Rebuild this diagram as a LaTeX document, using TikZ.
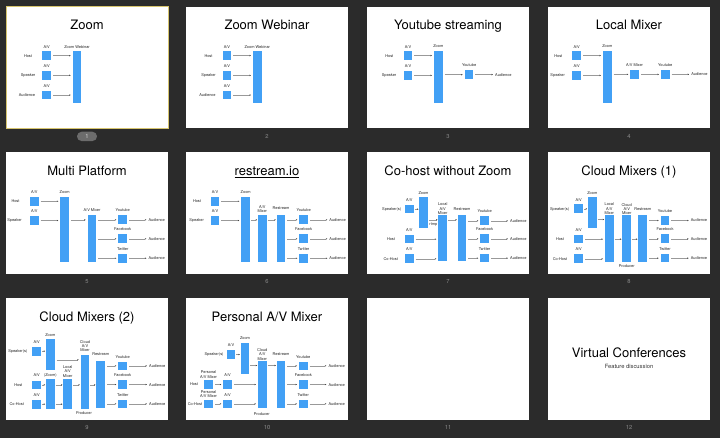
\documentclass[tikz,border=0pt]{standalone}
\usepackage{fontspec}
\setmainfont{TeX Gyre Heros}
\usetikzlibrary{arrows.meta}
\definecolor{bgc}{RGB}{43,43,43}
\definecolor{kblue}{RGB}{66,160,245}
\definecolor{selyel}{RGB}{214,196,110}
\definecolor{pillc}{RGB}{108,108,108}
\definecolor{numgray}{RGB}{140,140,140}
\begin{document}
\begin{tikzpicture}[x=1pt,y=-1pt,
  slidebox/.style={fill=white, minimum width=162pt, minimum height=121.5pt, anchor=north west, inner sep=0pt, outer sep=0pt},
  ttl/.style={font=\fontsize{13}{15}\selectfont, text=black, inner sep=0pt, anchor=base, yshift=-4.65pt},
  lbl/.style={font=\fontsize{3.9}{4.4}\selectfont, text=black!85, inner sep=0pt, anchor=base, yshift=-1.4pt},
  mlbl/.style={font=\fontsize{3.9}{4.4}\selectfont, text=black!85, inner sep=0pt, align=center, anchor=center},
  avbox/.style={fill=kblue, minimum width=8.7pt, minimum height=8.7pt, inner sep=0pt, outer sep=0pt, anchor=north west},
  bar/.style={fill=kblue, minimum width=8.7pt, inner sep=0pt, outer sep=0pt, anchor=north west},
  arr/.style={draw=black!40, line width=0.35pt, -{Stealth[length=1.5pt,width=1.3pt,color=black!75]}, shorten <=2pt, shorten >=2pt},
  sarr/.style={arr, shorten <=1pt, shorten >=0.8pt},
  pnum/.style={font=\fontsize{5.8}{6.5}\selectfont, text=numgray, inner sep=0pt}
]
\fill[bgc] (0,0) rectangle (720,438);
\useasboundingbox (0,0) rectangle (720,438);

% ---------- slide frames ----------
\node[slidebox, draw=selyel, line width=1pt] (p1) at (6,7) {};
\node[slidebox] (p2) at (186,7) {};
\node[slidebox] (p3) at (367,7) {};
\node[slidebox] (p4) at (548,7) {};
\node[slidebox] (p5) at (6,152.5) {};
\node[slidebox] (p6) at (186,152.5) {};
\node[slidebox] (p7) at (367,152.5) {};
\node[slidebox] (p8) at (548,152.5) {};
\node[slidebox] (p9) at (6,298.5) {};
\node[slidebox] (p10) at (186,298.5) {};
\node[slidebox] (p11) at (367,298.5) {};
\node[slidebox] (p12) at (548,298.5) {};

% ---------- page numbers ----------
\node[fill=pillc, rounded corners=4.6pt, minimum width=20pt, minimum height=9.3pt, inner sep=0pt] (n1) at (87,136.4) {};
\node[pnum, text=white!85!black] (n1t) at (n1) {1};
\node[pnum] (n2) at (267,136.4) {2};
\node[pnum] (n3) at (448,136.4) {3};
\node[pnum] (n4) at (629,136.4) {4};
\node[pnum] (n5) at (87,281.7) {5};
\node[pnum] (n6) at (267,281.7) {6};
\node[pnum] (n7) at (448,281.7) {7};
\node[pnum] (n8) at (629,281.7) {8};
\node[pnum] (n9) at (87,427.3) {9};
\node[pnum] (n10) at (267,427.3) {10};
\node[pnum] (n11) at (448,427.3) {11};
\node[pnum] (n12) at (629,427.3) {12};

% ---------- slide 1 ----------
\begin{scope}[shift={(6,7)}]
\node[ttl] (a0) at (81,18) {Zoom};
\node[avbox] (a1) at (36.3,44.3) {};
\node[avbox] (a2) at (36.3,64) {};
\node[avbox] (a3) at (36.3,83.7) {};
\node[lbl] (a1l) at (40.7,39.7) {A/V};
\node[lbl] (a2l) at (40.7,59.4) {A/V};
\node[lbl] (a3l) at (40.7,79.1) {A/V};
\node[lbl] (a1n) at (22,48.7) {Host};
\node[lbl] (a2n) at (22,68.4) {Speaker};
\node[lbl] (a3n) at (21,88) {Audience};
\node[bar, minimum height=52pt] (az) at (66.7,44.3) {};
\node[lbl] (azl) at (71,39.7) {Zoom Webinar};
\foreach \i in {1,2,3} \draw[arr] (a\i) -- (a\i -| az.west);
\end{scope}

% ---------- slide 2 ----------
\begin{scope}[shift={(186,7)}]
\node[ttl] (b0) at (81,18) {Zoom Webinar};
\node[avbox] (b1) at (36.5,44.3) {};
\node[avbox] (b2) at (36.5,64) {};
\node[avbox] (b3) at (36.5,83.7) {};
\node[lbl] (b1l) at (40.9,39.7) {A/V};
\node[lbl] (b2l) at (40.9,59.4) {A/V};
\node[lbl] (b3l) at (40.9,79.1) {A/V};
\node[lbl] (b1n) at (22.5,48.7) {Host};
\node[lbl] (b2n) at (22.5,68.4) {Speaker};
\node[lbl] (b3n) at (21.5,88) {Audience};
\node[bar, minimum height=52pt] (bz) at (67,44.3) {};
\node[lbl] (bzl) at (71.3,39.7) {Zoom Webinar};
\foreach \i in {1,2,3} \draw[arr] (b\i) -- (b\i -| bz.west);
\end{scope}

% ---------- slide 3 ----------
\begin{scope}[shift={(367,7)}]
\node[ttl] (c0) at (81,18) {Youtube streaming};
\node[avbox] (c1) at (36.7,44.3) {};
\node[avbox] (c2) at (36.7,64) {};
\node[lbl] (c1l) at (41,39.7) {A/V};
\node[lbl] (c2l) at (41,59.4) {A/V};
\node[lbl] (c1n) at (22.3,48.7) {Host};
\node[lbl] (c2n) at (22,68.4) {Speaker};
\node[bar, minimum height=52pt] (cz) at (67,44.3) {};
\node[lbl] (czl) at (71.3,39.4) {Zoom};
\node[avbox] (cy) at (97.7,63.3) {};
\node[lbl] (cyl) at (102.1,58.3) {Youtube};
\node[lbl] (ca) at (136.3,67.7) {Audience};
\draw[arr] (c1) -- (c1 -| cz.west);
\draw[arr] (c2) -- (c2 -| cz.west);
\draw[arr] (cz.east |- cy) -- (cy);
\draw[arr] (cy) -- (cy -| ca.west);
\end{scope}

% ---------- slide 4 ----------
\begin{scope}[shift={(548,7)}]
\node[ttl] (d0) at (81,18) {Local Mixer};
\node[avbox] (d1) at (24.3,44.3) {};
\node[avbox] (d2) at (24.3,64) {};
\node[lbl] (d1l) at (28.7,39.7) {A/V};
\node[lbl] (d2l) at (28.7,59.4) {A/V};
\node[lbl] (d1n) at (10.3,48.7) {Host};
\node[lbl] (d2n) at (9.7,68.4) {Speaker};
\node[bar, minimum height=51.5pt] (dz) at (55,44.3) {};
\node[lbl] (dzl) at (59.3,39.4) {Zoom};
\node[avbox] (dm) at (82.3,63) {};
\node[lbl] (dml) at (86.6,58.3) {A/V Mixer};
\node[avbox] (dy) at (113,63) {};
\node[lbl] (dyl) at (117.3,58.3) {Youtube};
\node[lbl] (da) at (151.5,67.4) {Audience};
\draw[arr] (d1) -- (d1 -| dz.west);
\draw[arr] (d2) -- (d2 -| dz.west);
\draw[arr] (dz.east |- dm) -- (dm);
\draw[arr] (dm) -- (dy);
\draw[arr] (dy) -- (dy -| da.west);
\end{scope}

% ---------- slide 5 ----------
\begin{scope}[shift={(6,152.5)}]
\node[ttl] (e0) at (81,18) {Multi Platform};
\node[avbox] (e1) at (24,44.4) {};
\node[avbox] (e2) at (24,63.7) {};
\node[lbl] (e1l) at (28.3,39.6) {A/V};
\node[lbl] (e2l) at (28.3,59) {A/V};
\node[lbl] (e1n) at (9.5,48.8) {Host};
\node[lbl] (e2n) at (8.5,68.1) {Speaker};
\node[bar, minimum height=65pt] (ez) at (54.3,44.4) {};
\node[lbl] (ezl) at (58.7,39.6) {Zoom};
\node[bar, minimum height=46.4pt] (em) at (81.7,63) {};
\node[lbl] (eml) at (86,58) {A/V Mixer};
\node[avbox] (ey) at (112.3,63) {};
\node[avbox] (ef) at (112.3,82) {};
\node[avbox] (et) at (112.3,101.4) {};
\node[lbl] (eyl) at (116.7,58) {Youtube};
\node[lbl] (efl) at (116.7,77) {Facebook};
\node[lbl] (etl) at (116.7,96.4) {Twitter};
\node[lbl] (eay) at (150.7,67.4) {Audience};
\node[lbl] (eaf) at (150.7,86.4) {Audience};
\node[lbl] (eat) at (150.7,105.7) {Audience};
\draw[arr] (e1) -- (e1 -| ez.west);
\draw[arr] (e2) -- (e2 -| ez.west);
\draw[arr] (ez.east |- ey) -- (em.west |- ey);
\foreach \b/\a in {ey/eay,ef/eaf,et/eat} {
  \draw[arr] (em.east |- \b) -- (\b);
  \draw[arr] (\b) -- (\b -| \a.west);
}
\end{scope}

% ---------- slide 6 ----------
\begin{scope}[shift={(186,152.5)}]
\node[ttl] (f0) at (81,18) {\underline{restream.io}};
\node[avbox] (f1) at (24.6,44.4) {};
\node[avbox] (f2) at (24.6,63.7) {};
\node[lbl] (f1l) at (29,39.6) {A/V};
\node[lbl] (f2l) at (29,59) {A/V};
\node[lbl] (f1n) at (11,48.8) {Host};
\node[lbl] (f2n) at (10.6,68.1) {Speaker};
\node[bar, minimum height=65pt] (fz) at (55.3,44.4) {};
\node[lbl] (fzl) at (59.7,39.6) {Zoom};
\node[bar, minimum height=46.7pt] (fm) at (72,62.7) {};
\node[mlbl] (fml) at (76.3,56.4) {A/V\\Mixer};
\node[bar, minimum height=46.7pt] (fr) at (90.6,62.7) {};
\node[lbl] (frl) at (95,56) {Restream};
\node[avbox] (fy) at (113.3,63) {};
\node[avbox] (ff) at (113.3,82) {};
\node[avbox] (ft) at (113.3,101.4) {};
\node[lbl] (fyl) at (117.6,58) {Youtube};
\node[lbl] (ffl) at (117.6,77) {Facebook};
\node[lbl] (ftl) at (117.6,96.4) {Twitter};
\node[lbl] (fay) at (151.6,67.4) {Audience};
\node[lbl] (faf) at (151.6,86.4) {Audience};
\node[lbl] (fat) at (151.6,105.7) {Audience};
\draw[arr] (f1) -- (f1 -| fz.west);
\draw[arr] (f2) -- (f2 -| fz.west);
\draw[sarr] (fz.east |- fy) -- (fm.west |- fy);
\draw[sarr] (fm.east |- fy) -- (fr.west |- fy);
\foreach \b/\a in {fy/fay,ff/faf,ft/fat} {
  \draw[arr] (fr.east |- \b) -- (\b);
  \draw[arr] (\b) -- (\b -| \a.west);
}
\end{scope}

% ---------- slide 7 ----------
\begin{scope}[shift={(367,152.5)}]
\node[ttl] (g0) at (81,18) {Co-host without Zoom};
\coordinate (gk) at (0,67.3);
\node[avbox] (gs) at (38,52.3) {};
\node[lbl] (gsl) at (42.3,47.3) {A/V};
\node[lbl] (gsn) at (24.7,56.7) {Speaker(s)};
\node[bar, minimum height=31.3pt] (gz) at (52.3,44.7) {};
\node[lbl] (gzl) at (56.5,40.3) {Zoom};
\node[bar, minimum height=46pt] (gl) at (71.3,63) {};
\node[mlbl] (gll) at (75.7,56.5) {Local\\A/V\\Mixer};
\node[lbl] (grt) at (66.3,71.3) {rtmp};
\node[avbox] (g1) at (38,82.3) {};
\node[lbl] (g1l) at (42.3,77.3) {A/V};
\node[lbl] (g1n) at (24,86.7) {Host};
\node[avbox] (g2) at (38,102) {};
\node[lbl] (g2l) at (42.3,97) {A/V};
\node[lbl] (g2n) at (23.7,106.3) {Co-Host};
\node[bar, minimum height=46pt] (gr) at (90.7,63) {};
\node[lbl] (grl) at (95,56.7) {Restream};
\node[avbox] (gy) at (113.3,64) {};
\node[avbox] (gf) at (113.3,82) {};
\node[avbox] (gt) at (113.3,101.3) {};
\node[lbl] (gyl) at (117.6,59) {Youtube};
\node[lbl] (gfl) at (117.6,77) {Facebook};
\node[lbl] (gtl) at (117.6,96.7) {Twitter};
\node[lbl] (gay) at (151.3,68.3) {Audience};
\node[lbl] (gaf) at (151.3,86.3) {Audience};
\node[lbl] (gat) at (151.3,105.7) {Audience};
\draw[sarr] (gs) -- (gs -| gz.west);
\draw[sarr] (gz.east |- gk) -- (gl.west |- gk);
\draw[arr] (g1) -- (g1 -| gl.west);
\draw[arr] (g2) -- (g2 -| gl.west);
\draw[sarr] (gl.east |- gk) -- (gr.west |- gk);
\foreach \b/\a in {gy/gay,gf/gaf,gt/gat} {
  \draw[arr] (gr.east |- \b) -- (\b);
  \draw[arr] (\b) -- (\b -| \a.west);
}
\end{scope}

% ---------- slide 8 ----------
\begin{scope}[shift={(548,152.5)}]
\node[ttl] (h0) at (81,18) {Cloud Mixers (1)};
\coordinate (hk) at (0,67);
\node[avbox] (hs) at (26.3,52) {};
\node[lbl] (hsl) at (30.7,47.3) {A/V};
\node[lbl] (hsn) at (11.6,56.5) {Speaker(s)};
\node[bar, minimum height=31pt] (hz) at (40,44.7) {};
\node[lbl] (hzl) at (44.3,40.2) {Zoom};
\node[bar, minimum height=46.6pt] (hl) at (57,62.7) {};
\node[mlbl] (hll) at (61.3,56.5) {Local\\A/V\\Mixer};
\node[avbox] (h1) at (26.3,82.3) {};
\node[lbl] (h1l) at (30.7,77.3) {A/V};
\node[lbl] (h1n) at (12,86.7) {Host};
\node[avbox] (h2) at (26.3,102) {};
\node[lbl] (h2l) at (30.7,97) {A/V};
\node[lbl] (h2n) at (12,106.3) {Co-Host};
\node[bar, minimum height=46.6pt] (hc) at (74.3,62.7) {};
\node[mlbl] (hcl) at (78.7,56.5) {Cloud\\A/V\\Mixer};
\node[bar, minimum height=46.6pt] (hr) at (90.3,62.7) {};
\node[lbl] (hrl) at (94.7,56.7) {Restream};
\node[avbox] (hy) at (112.7,63.7) {};
\node[avbox] (hf) at (112.7,82) {};
\node[avbox] (ht) at (112.7,101.3) {};
\node[lbl] (hyl) at (117,58.7) {Youtube};
\node[lbl] (hfl) at (117,77) {Facebook};
\node[lbl] (htl) at (117,96.3) {Twitter};
\node[lbl] (hay) at (151,68) {Audience};
\node[lbl] (haf) at (151,86.3) {Audience};
\node[lbl] (hat) at (151,105.7) {Audience};
\node[lbl] (hp) at (78.7,114) {Producer};
\draw[sarr] (hs) -- (hs -| hz.west);
\draw[sarr] (hz.east |- hk) -- (hl.west |- hk);
\draw[arr] (h1) -- (h1 -| hl.west);
\draw[arr] (h2) -- (h2 -| hl.west);
\draw[sarr] (hl.east |- h1) -- (hc.west |- h1);
\draw[sarr] (hc.east |- h1) -- (hr.west |- h1);
\foreach \b/\a in {hy/hay,hf/haf,ht/hat} {
  \draw[arr] (hr.east |- \b) -- (\b);
  \draw[arr] (\b) -- (\b -| \a.west);
}
\end{scope}

% ---------- slide 9 ----------
\begin{scope}[shift={(6,298.5)}]
\node[ttl] (i0) at (81,18) {Cloud Mixers (2)};
\coordinate (ik) at (0,61.3);
\node[avbox] (is) at (26.3,48.3) {};
\node[lbl] (isl) at (30.7,43.3) {A/V};
\node[lbl] (isn) at (11.8,52.5) {Speaker(s)};
\node[bar, minimum height=30.3pt] (iz) at (40,40.7) {};
\node[lbl] (izl) at (44.3,36.3) {Zoom};
\node[bar, minimum height=30pt] (iw) at (40,80.3) {};
\node[lbl] (iwl) at (44.3,76.8) {(Zoom)};
\node[avbox] (i1) at (26.3,82) {};
\node[lbl] (i1l) at (30.7,77) {A/V};
\node[lbl] (i1n) at (12.3,86.3) {Host};
\node[avbox] (i2) at (26.3,101.3) {};
\node[lbl] (i2l) at (30.7,96.5) {A/V};
\node[lbl] (i2n) at (10.7,105.7) {Co-Host};
\node[bar, minimum height=30.3pt] (il) at (57.3,80) {};
\node[mlbl] (ill) at (61.7,73) {Local\\A/V\\Mixer};
\node[bar, minimum height=54pt] (ic) at (74.7,56.3) {};
\node[mlbl] (icl) at (79,47.5) {Cloud\\A/V\\Mixer};
\node[bar, minimum height=46.7pt] (ir) at (90.3,62.3) {};
\node[lbl] (irl) at (94.7,55.7) {Restream};
\node[avbox] (iyt) at (112.3,63) {};
\node[avbox] (ifb) at (112.3,81.7) {};
\node[avbox] (itw) at (112.3,101) {};
\node[lbl] (iytl) at (116.7,58.3) {Youtube};
\node[lbl] (ifbl) at (116.7,77) {Facebook};
\node[lbl] (itwl) at (116.7,96.3) {Twitter};
\node[lbl] (iay) at (151.3,67.4) {Audience};
\node[lbl] (iaf) at (151.3,86.1) {Audience};
\node[lbl] (iat) at (151.3,105.4) {Audience};
\node[lbl] (ip) at (78,114.3) {Producer};
\draw[sarr] (is) -- (is -| iz.west);
\draw[sarr] (i1) -- (i1 -| iw.west);
\draw[sarr] (i2) -- (i2 -| iw.west);
\draw[sarr] (iw.east |- i1) -- (il.west |- i1);
\draw[sarr] (iw.east |- i2) -- (il.west |- i2);
\draw[arr] (iz.east |- ik) -- (ic.west |- ik);
\draw[sarr] (il.east |- i1) -- (ic.west |- i1);
\draw[sarr] (ic.east |- i1) -- (ir.west |- i1);
\foreach \b/\a in {iyt/iay,ifb/iaf,itw/iat} {
  \draw[arr] (ir.east |- \b) -- (\b);
  \draw[arr] (\b) -- (\b -| \a.west);
}
\end{scope}

% ---------- slide 10 ----------
\begin{scope}[shift={(186,298.5)}]
\node[ttl] (j0) at (81,18) {Personal A/V Mixer};
\coordinate (jk) at (0,67);
\node[avbox] (js) at (40.7,51.7) {};
\node[lbl] (jsl) at (45,47) {A/V};
\node[lbl] (jsn) at (28,56) {Speaker(s)};
\node[bar, minimum height=31pt] (jz) at (54.7,44) {};
\node[lbl] (jzl) at (59,39.3) {Zoom};
\node[bar, minimum height=46.7pt] (jc) at (72,62.3) {};
\node[mlbl] (jcl) at (76.3,55.9) {Cloud\\A/V\\Mixer};
\node[avbox] (jp1) at (18.3,81.7) {};
\node[mlbl] (jp1l) at (22.6,76.3) {Personal\\A/V Mixer};
\node[avbox] (j1) at (37.3,81.7) {};
\node[lbl] (j1l) at (41.6,76.7) {A/V};
\node[lbl] (j1n) at (8,86) {Host};
\node[avbox] (jp2) at (18.3,101) {};
\node[mlbl] (jp2l) at (22.6,95.7) {Personal\\A/V Mixer};
\node[avbox] (j2) at (37.3,101) {};
\node[lbl] (j2l) at (41.6,96.3) {A/V};
\node[lbl] (j2n) at (9,105.3) {Co-Host};
\node[bar, minimum height=46.7pt] (jr) at (90.7,62.3) {};
\node[lbl] (jrl) at (95,56) {Restream};
\node[avbox] (jyt) at (113,63) {};
\node[avbox] (jfb) at (113,81.7) {};
\node[avbox] (jtw) at (113,101) {};
\node[lbl] (jytl) at (117.3,58.3) {Youtube};
\node[lbl] (jfbl) at (117.3,77) {Facebook};
\node[lbl] (jtwl) at (117.3,96.3) {Twitter};
\node[lbl] (jay) at (150.7,67.4) {Audience};
\node[lbl] (jaf) at (150.7,86.1) {Audience};
\node[lbl] (jat) at (150.7,105.4) {Audience};
\node[lbl] (jp) at (75.7,115.5) {Producer};
\draw[sarr] (js) -- (js -| jz.west);
\draw[sarr] (jz.east |- jk) -- (jc.west |- jk);
\draw[arr] (jp1) -- (j1);
\draw[arr] (j1) -- (j1 -| jc.west);
\draw[arr] (jp2) -- (j2);
\draw[arr] (j2) -- (j2 -| jc.west);
\draw[sarr] (jc.east |- jk) -- (jr.west |- jk);
\foreach \b/\a in {jyt/jay,jfb/jaf,jtw/jat} {
  \draw[arr] (jr.east |- \b) -- (\b);
  \draw[arr] (\b) -- (\b -| \a.west);
}
\end{scope}

% ---------- slide 12 ----------
\begin{scope}[shift={(548,298.5)}]
\node[font=\fontsize{13}{15}\selectfont, inner sep=0pt, anchor=base, yshift=-4.65pt] (l0) at (81,54.5) {Virtual Conferences};
\node[font=\fontsize{5.8}{7}\selectfont, text=black!80, inner sep=0pt, anchor=base, yshift=-2pt] (l1) at (81,68) {Feature discussion};
\end{scope}
\end{tikzpicture}
\end{document}
